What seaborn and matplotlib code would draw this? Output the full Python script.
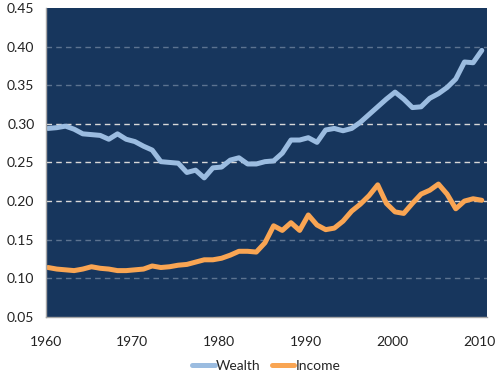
import matplotlib
matplotlib.use("Agg")
import matplotlib.pyplot as plt
import seaborn as sns
import pandas as pd
import numpy as np
from matplotlib.ticker import MultipleLocator, FormatStrFormatter

years = list(range(1960, 2011))
wealth = [0.294, 0.295, 0.297, 0.293, 0.287, 0.286, 0.285, 0.280, 0.287, 0.280,
          0.277, 0.271, 0.266, 0.251, 0.250, 0.249, 0.237, 0.240, 0.230, 0.243,
          0.244, 0.253, 0.256, 0.248, 0.248, 0.251, 0.252, 0.262, 0.279, 0.279,
          0.282, 0.276, 0.292, 0.294, 0.291, 0.294, 0.302, 0.312, 0.322, 0.332,
          0.341, 0.332, 0.321, 0.322, 0.333, 0.339, 0.347, 0.358, 0.380, 0.379,
          0.395]
income = [0.114, 0.112, 0.111, 0.110, 0.112, 0.115, 0.113, 0.112, 0.110, 0.110,
          0.111, 0.112, 0.116, 0.114, 0.115, 0.117, 0.118, 0.121, 0.124, 0.124,
          0.126, 0.130, 0.135, 0.135, 0.134, 0.146, 0.168, 0.162, 0.172, 0.162,
          0.182, 0.169, 0.163, 0.165, 0.174, 0.187, 0.196, 0.207, 0.221, 0.197,
          0.186, 0.184, 0.197, 0.209, 0.214, 0.222, 0.209, 0.190, 0.200, 0.203,
          0.201]
series_names = ["Wealth", "Income"]
colors = {"Wealth": "#9BBCE0", "Income": "#F9A553"}

df = pd.DataFrame({
    "year": years * 2,
    "value": wealth + income,
    "series": [series_names[0]] * len(years) + [series_names[1]] * len(years),
})
# plotted slightly after the tick, like the original date axis
df["x"] = df["year"] + 0.3

sns.set_theme(style="white")
plt.rcParams["font.family"] = ["Lato", "DejaVu Sans"]

fig = plt.figure(figsize=(5.0, 3.76), dpi=100)
ax = fig.add_axes([0.091, 0.157, 0.883, 0.822])
ax.set_facecolor("#17365D")

sns.lineplot(data=df, x="x", y="value", hue="series", palette=colors,
             hue_order=series_names, linewidth=3.6, ax=ax, legend=True,
             solid_joinstyle="round", solid_capstyle="round")

ax.set_xlim(1960, 2010.9)
ax.set_ylim(0.05, 0.45)
ax.xaxis.set_major_locator(MultipleLocator(10))
ax.xaxis.set_minor_locator(MultipleLocator(5))
ax.yaxis.set_major_locator(MultipleLocator(0.05))
ax.yaxis.set_major_formatter(FormatStrFormatter("%.2f"))
ax.set_xlabel("")
ax.set_ylabel("")

ax.tick_params(axis="both", which="both", direction="out", length=5, width=1,
               color="#A6A6A6", labelsize=10, labelcolor="#222222", pad=3)
ax.tick_params(axis="x", which="major", pad=9)

for s in ["top", "right"]:
    ax.spines[s].set_visible(False)
for s in ["left", "bottom"]:
    ax.spines[s].set_color("#A6A6A6")
    ax.spines[s].set_linewidth(1)

ax.yaxis.grid(True, linestyle=(0, (4, 3)), linewidth=1)
ax.set_axisbelow(True)
fig.canvas.draw()
for val, gl in zip(ax.get_yticks(), ax.get_ygridlines()):
    if 0.19 < val < 0.31:
        gl.set_color("#D8D8D8")
    else:
        gl.set_color("#5C7390")
    if val <= 0.051 or val >= 0.449:
        gl.set_visible(False)

leg = ax.legend(loc="center", bbox_to_anchor=(0.5, -0.158), ncol=2,
                frameon=False, fontsize=10, handlelength=1.6, handletextpad=0.1,
                columnspacing=0.8, borderpad=0)
for line in leg.get_lines():
    line.set_linewidth(3.6)

fig.savefig("out.png", dpi=100)
